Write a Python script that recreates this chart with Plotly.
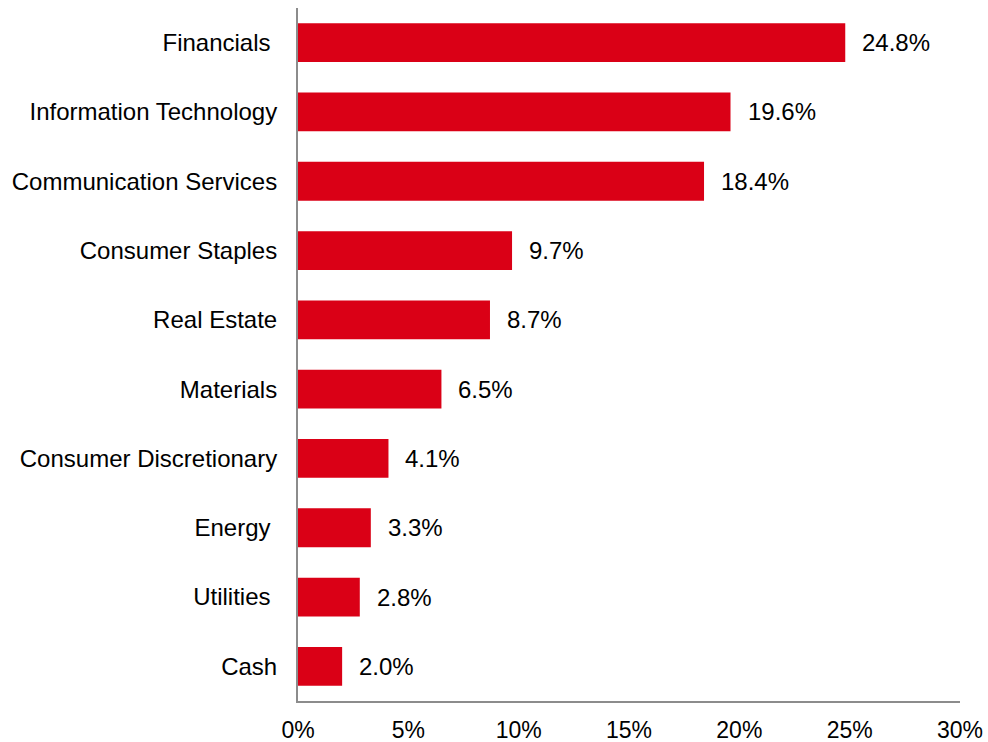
import plotly.graph_objects as go

# Sector weights, top to bottom
sectors = [
    "Financials\u00a0",
    "Information Technology",
    "Communication Services",
    "Consumer Staples",
    "Real Estate",
    "Materials",
    "Consumer Discretionary",
    "Energy\u00a0",
    "Utilities\u00a0",
    "Cash",
]
weights = [24.8, 19.6, 18.4, 9.7, 8.7, 6.5, 4.1, 3.3, 2.8, 2.0]
x_ticks = [0, 5, 10, 15, 20, 25, 30]
x_tick_labels = ["0%", "5%", "10%", "15%", "20%", "25%", "30%"]

FONT = "Liberation Sans, Arial, sans-serif"
FONT_SIZE = 24
BAR_RED = "#DA0016"
AXIS_GREY = "#8C8C8C"

fig = go.Figure(
    go.Bar(
        x=weights,
        y=sectors,
        orientation="h",
        marker=dict(color=BAR_RED, line=dict(width=0)),
        hoverinfo="skip",
    )
)

# Value labels just past the end of each bar
for s, w in zip(sectors, weights):
    fig.add_annotation(
        x=w, y=s, text=f"{w:.1f}%", showarrow=False,
        xanchor="left", xshift=15,
        font=dict(family=FONT, size=FONT_SIZE, color="#000000"),
    )

fig.update_layout(
    width=988, height=742,
    margin=dict(l=298, r=28, t=8, b=41),
    plot_bgcolor="white", paper_bgcolor="white",
    bargap=0.44,
    showlegend=False,
    font=dict(family=FONT, size=FONT_SIZE, color="#000000"),
)
fig.update_xaxes(
    range=[0, 30], tickvals=x_ticks, ticktext=x_tick_labels,
    showgrid=False, zeroline=False,
    showline=True, linecolor=AXIS_GREY, linewidth=2,
    ticks="", ticklabelstandoff=7, automargin=False,
    tickfont=dict(family=FONT, size=23, color="#000000"),
)
fig.update_yaxes(
    categoryorder="array", categoryarray=sectors[::-1],
    showgrid=False, zeroline=False,
    showline=True, linecolor=AXIS_GREY, linewidth=2,
    ticks="", ticklabelstandoff=14, automargin=False,
    tickfont=dict(family=FONT, size=FONT_SIZE, color="#000000"),
)

fig.write_html("out.html")
